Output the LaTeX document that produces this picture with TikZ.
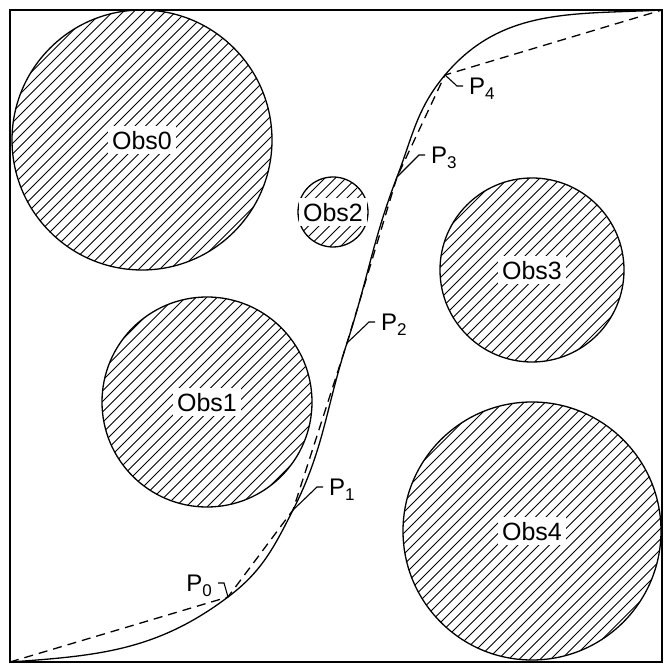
\documentclass[tikz,border=0pt]{standalone}
\usepackage{fontspec}
\setmainfont{Liberation Sans}
\usepackage{tikz}
\newcommand{\Psub}[1]{P\raisebox{-5pt}{\fontsize{17}{17}\selectfont #1}}
\tikzset{
  obstacle/.style={circle, draw=black, line width=1.3pt, inner sep=0pt},
  hatch/.style   ={line width=0.8pt},
  obslabel/.style={fill=white, inner xsep=4pt, inner ysep=5pt, text depth=0pt,
                   font=\fontsize{25}{30}\selectfont},
  plabel/.style  ={inner xsep=6pt, inner ysep=2pt, text depth=0pt,
                   font=\fontsize{24}{30}\selectfont},
  leader/.style  ={line width=1.1pt},
  route/.style   ={line width=1.3pt},
  waypath/.style ={line width=1.3pt, dash pattern=on 9pt off 6pt},
}

\begin{document}
\begin{tikzpicture}[x=1pt,y=1pt]
\useasboundingbox (0,0) rectangle (671,672);
\coordinate (start) at (10,10);
\coordinate (goal) at (662,662);
\draw[line width=1.3pt] (start) rectangle (goal);

% obstacles: hatched discs
\foreach \i/\x/\y/\r in {0/142/532/130, 1/207/270/105, 2/333/460/35,
                         3/532/402/92, 4/532/141/129} {
  \begin{scope}
    \clip (\x,\y) circle[radius=\r];
    \foreach \k in {-18,...,18}
      \draw[hatch] (\x+\k*10.5-\r,\y-\r) -- ++(2*\r,2*\r);
  \end{scope}
  \node[obstacle, minimum size=2*\r] (obs\i) at (\x,\y) {};
  \node[obslabel] (lab\i) at (obs\i.center) {Obs\i};
}

% waypoints
\coordinate (p0) at (228,75);
\coordinate (p1) at (293,162);
\coordinate (p2) at (347,329);
\coordinate (p3) at (397,495);
\coordinate (p4) at (445,597);

% smoothed path and polyline
\draw[route] (start) to[out=4,in=217] (p0) to[out=37,in=243] (p1)
   to[out=63,in=252] (p2) to[out=72,in=249] (p3) to[out=69,in=230] (p4)
   to[out=50,in=183] (goal);
\draw[waypath] (start) -- (p0) -- (p1) -- (p2) -- (p3) -- (p4) -- (goal);

% waypoint labels
\node[plabel, anchor=east] (l0) at (218,89)  {\Psub{0}};
\node[plabel, anchor=west] (l1) at (323,185) {\Psub{1}};
\node[plabel, anchor=west] (l2) at (375,350) {\Psub{2}};
\node[plabel, anchor=west] (l3) at (425,517) {\Psub{3}};
\node[plabel, anchor=west] (l4) at (463,586) {\Psub{4}};
\draw[leader] (l0.east) -- ++(6,0) -- (p0);
\foreach \i in {1,...,4}
  \draw[leader] (l\i.west) -- ++(-6,0) -- (p\i);
\end{tikzpicture}
\end{document}
